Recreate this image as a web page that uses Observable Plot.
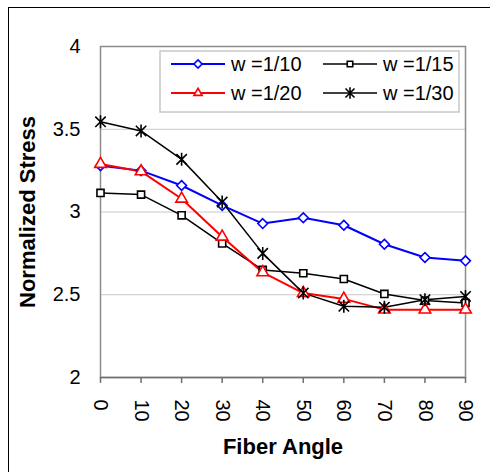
<!DOCTYPE html>
<html><head><meta charset="utf-8">
<script src="https://cdn.jsdelivr.net/npm/d3@7"></script>
<script src="https://cdn.jsdelivr.net/npm/@observablehq/plot@0.6"></script>
<style>
body{margin:0;overflow:hidden;background:#fff;}
#wrap{position:relative;width:490px;height:472px;overflow:hidden;}
#border{position:absolute;left:8px;top:7px;width:520px;height:520px;border:1px solid #000;}
#chart{position:absolute;left:0;top:0;}
</style></head><body>
<div id="wrap"><div id="border"></div><div id="chart"></div></div>
<script>
const angles = [0,10,20,30,40,50,60,70,80,90];
const w10 = [3.28,3.25,3.16,3.04,2.93,2.965,2.92,2.805,2.725,2.705];
const w15 = [3.115,3.105,2.98,2.81,2.65,2.63,2.595,2.505,2.465,2.45];
const w20 = [3.29,3.245,3.08,2.85,2.635,2.51,2.475,2.41,2.41,2.41];
const w30 = [3.545,3.49,3.318,3.06,2.75,2.51,2.43,2.425,2.47,2.49];
const seriesNames = ["w =1/10","w =1/15","w =1/20","w =1/30"];
const seriesValues = [w10,w15,w20,w30];
const colors = ["#0000ff","#000000","#ff0000","#000000"];
const yTicks = [2,2.5,3,3.5,4];
const gridTicks = [2.5,3,3.5];

const starSymbol = {
  draw(ctx, size) {
    const r = Math.sqrt(size / Math.PI);
    const d = r * 0.8;
    ctx.moveTo(0, -r); ctx.lineTo(0, r);
    ctx.moveTo(-d, -d); ctx.lineTo(d, d);
    ctx.moveTo(-d, d); ctx.lineTo(d, -d);
  }
};
const symbols = ["diamond2","square","triangle",starSymbol];
const radii = [4.4,4,4.3,6.5];
const legendScale = [0.7,0.6,0.5,0.75];
const widths = [2,1.5,2,1.5];

const rows = [];
seriesNames.forEach((s,i)=>angles.forEach((a,j)=>rows.push({series:s, idx:i, angle:a, value:seriesValues[i][j]})));

const font = "'Liberation Sans', Arial, sans-serif";
const marks = [
  Plot.gridY(gridTicks, {stroke:"#c8c8c8", strokeOpacity:1, strokeWidth:1}),
  Plot.frame({stroke:"#8c8c8c", strokeWidth:1.5}),
  Plot.ruleY([2], {stroke:"#707070", strokeWidth:1.5}),
  Plot.axisY({ticks:yTicks, tickSize:0, tickPadding:20, fontSize:20, label:null, tickFormat:d=>String(d)}),
  Plot.axisX({ticks:angles, tickSize:6, tickPadding:16, tickRotate:90, fontSize:20, label:null, stroke:"#707070", strokeWidth:1.5}),
  Plot.text(["Normalized Stress"], {frameAnchor:"left", rotate:-90, dx:-73, textAnchor:"middle", fontSize:22, fontWeight:"bold", fill:"#000"}),
  Plot.text(["Fiber Angle"], {frameAnchor:"bottom", dy:69, textAnchor:"middle", lineAnchor:"middle", fontSize:22, fontWeight:"bold", fill:"#000"})
];
seriesNames.forEach((s,i)=>{
  const d = rows.filter(r=>r.idx===i);
  marks.push(Plot.line(d, {x:"angle", y:"value", stroke:colors[i], strokeWidth:widths[i]}));
});
seriesNames.forEach((s,i)=>{
  const d = rows.filter(r=>r.idx===i);
  marks.push(Plot.dot(d, {x:"angle", y:"value", symbol:()=>symbols[i], r:radii[i], stroke:colors[i], fill:"#fff", strokeWidth:1.6}));
});

const chart = Plot.plot({
  width:490, height:472,
  marginLeft:100, marginRight:25, marginTop:46, marginBottom:95,
  style:{fontFamily:font, fontSize:"20px", background:"transparent", color:"#000"},
  x:{domain:[0,90]},
  y:{domain:[2,4]},
  symbol:{type:"identity"},
  marks
});
document.getElementById("chart").appendChild(chart);

// legend
const svg = d3.select(chart);
const lg = svg.append("g").attr("text-anchor","start");
lg.append("rect").attr("x",160).attr("y",51).attr("width",299).attr("height",61)
  .attr("fill","#fff").attr("stroke","#c8c8c8").attr("stroke-width",1.5);
const d3sym = {diamond2:d3.symbolDiamond2, square:d3.symbolSquare, triangle:d3.symbolTriangle};
seriesNames.forEach((s,i)=>{
  const col = i % 2, row = Math.floor(i/2);
  const x0 = 171 + col*152, y0 = 64 + row*29;
  const g = lg.append("g").attr("transform",`translate(${x0},${y0})`);
  g.append("line").attr("x1",0).attr("x2",54).attr("y1",0).attr("y2",0).attr("stroke",colors[i]).attr("stroke-width",widths[i]);
  const t = typeof symbols[i] === "string" ? d3sym[symbols[i]] : symbols[i];
  const sz = Math.PI*radii[i]*radii[i]*legendScale[i];
  g.append("path").attr("transform","translate(27,0)").attr("d",d3.symbol(t,sz)())
    .attr("fill","#fff").attr("stroke",colors[i]).attr("stroke-width",1.6);
  g.append("text").attr("x",60).attr("y",0).attr("dy","0.36em").attr("font-size",20).attr("fill","#000").attr("text-anchor","start").text(s);
});
</script>
</body></html>
